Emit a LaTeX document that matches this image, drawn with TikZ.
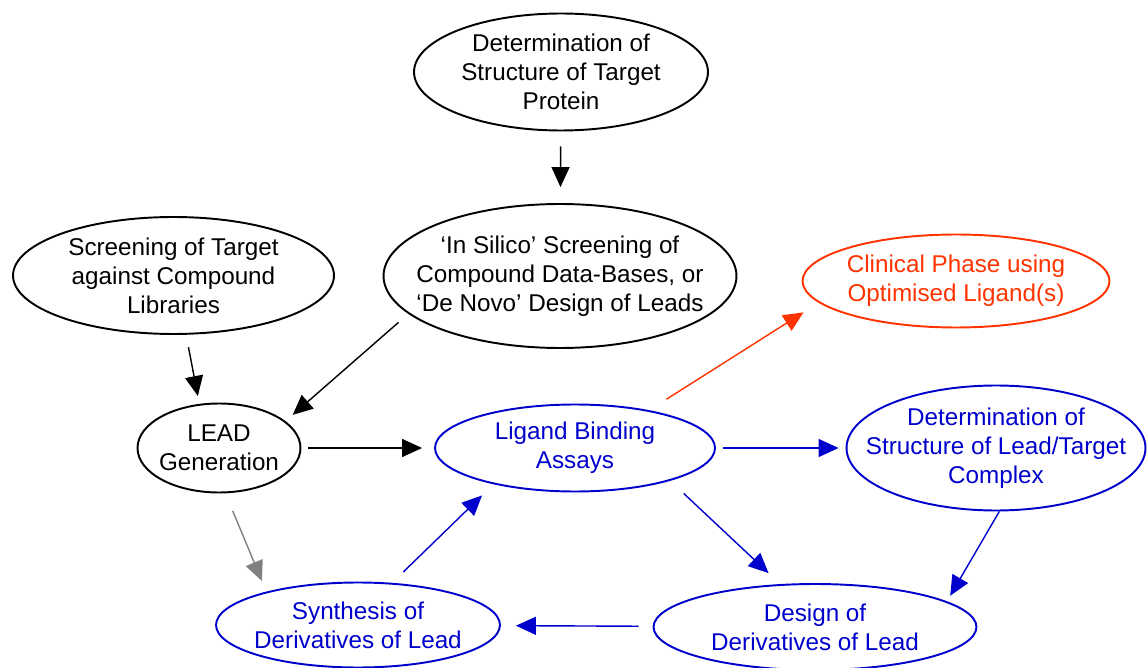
\documentclass[tikz,border=0pt]{standalone}
\usepackage{fontspec}
\setmainfont{Liberation Sans}
\usetikzlibrary{shapes.geometric, arrows.meta}
\definecolor{loopblue}{HTML}{0000CC}
\definecolor{clinred}{HTML}{FF3300}
\tikzset{
  stage/.style={ellipse, draw, line width=1.1pt, inner sep=-4cm, align=center,
    font=\fontsize{13.8}{16.5}\selectfont},
  flow/.style={line width=0.8pt, -{Triangle[length=0.4cm,width=0.36cm]}},
}

\begin{document}
\begin{tikzpicture}[x=0.02cm, y=-0.02cm]
            \useasboundingbox (0,0) rectangle (1148,668);

            % black part: finding a lead
            \node[stage, minimum width=5.88cm, minimum height=2.34cm] (top) at (561,72) {Determination of\\Structure of Target\\Protein};
            \node[stage, minimum width=6.42cm, minimum height=2.34cm] (scr) at (173.5,275.5) {Screening of Target\\against Compound\\Libraries};
            \node[stage, minimum width=7.06cm, minimum height=2.88cm] (sil) at (560,276) {`In Silico' Screening of\\Compound Data-Bases, or\\`De Novo' Design of Leads};
            \node[stage, minimum width=3.26cm, minimum height=1.78cm] (lead) at (219,448) {LEAD\\Generation};

            % clinical phase
            \node[stage, clinred, minimum width=6.14cm, minimum height=1.86cm] (clin) at (956,281) {Clinical Phase using\\Optimised Ligand(s)};

            % blue part: optimisation loop
            \node[stage, loopblue, minimum width=5.6cm, minimum height=1.74cm] (lig) at (575,448) {Ligand Binding\\Assays};
            \node[stage, loopblue, minimum width=5.98cm, minimum height=2.5cm] (cplx) at (996,448) {Determination of\\Structure of Lead/Target\\Complex};
            \node[stage, loopblue, minimum width=6.46cm, minimum height=1.72cm] (des) at (815,627) {Design of\\Derivatives of Lead};
            \node[stage, loopblue, minimum width=5.68cm, minimum height=1.7cm] (syn) at (358,625) {Synthesis of\\Derivatives of Lead};

            \draw[flow, shorten <=0.3cm, shorten >=0.32cm] (top) -- (sil);
            \draw[flow, shorten <=0.25cm, shorten >=0.16cm] (scr.-78.3) -- (lead.114);
            \draw[flow, shorten <=0.26cm, shorten >=0.19cm] (sil.194.5) -- (lead.22.6);
            \draw[flow, shorten <=0.14cm, shorten >=0.24cm] (lead) -- (lig);
            \draw[flow, gray, shorten <=0.38cm, shorten >=0.23cm] (lead.-82.7) -- (syn.160.5);% lead into the loop
            \draw[flow, clinred, shorten <=0.41cm, shorten >=0.36cm] (lig.27.2) -- (clin.189.5);

            \draw[flow, loopblue, shorten <=0.14cm, shorten >=0.14cm] (lig) -- (cplx);
            \draw[flow, loopblue, shorten <=0.37cm, shorten >=0.32cm] (lig.-19.1) -- (des.129.9);
            \draw[flow, loopblue, shorten >=0.13cm] (cplx.-87) -- (des.11.9);
            \draw[flow, loopblue, shorten <=0.28cm, shorten >=0.3cm] (des) -- (syn);
            \draw[flow, loopblue, shorten <=0.31cm, shorten >=0.32cm] (syn.51.7) -- (lig.204.7);
        \end{tikzpicture}
\end{document}
